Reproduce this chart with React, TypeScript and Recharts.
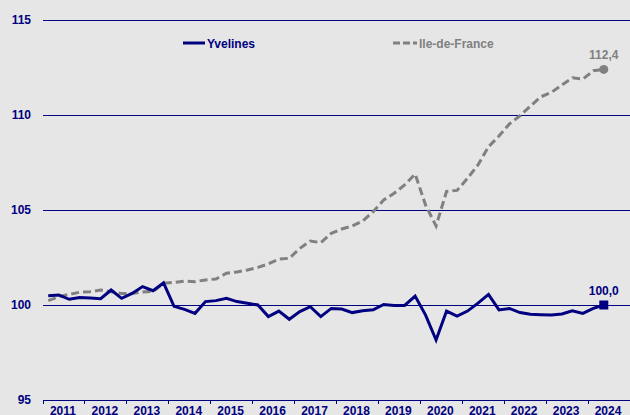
import { LineChart, Line, XAxis, YAxis, CartesianGrid } from 'recharts'

// quarterly index, 2011 Q1 .. 2024 Q2
const years = ['2011', '2012', '2013', '2014', '2015', '2016', '2017', '2018', '2019', '2020', '2021', '2022', '2023', '2024']

const yvelines = [
  100.49, 100.53, 100.3, 100.4, 100.37, 100.33, 100.79, 100.35, 100.61, 100.97, 100.75, 101.17,
  99.93, 99.77, 99.56, 100.18, 100.23, 100.35, 100.18, 100.09, 100.0, 99.39, 99.68, 99.25,
  99.65, 99.91, 99.39, 99.82, 99.79, 99.6, 99.7, 99.75, 100.03, 99.98, 99.98, 100.47,
  99.47, 98.16, 99.68, 99.42, 99.68, 100.1, 100.56, 99.74, 99.82, 99.6, 99.51, 99.49,
  99.47, 99.53, 99.7, 99.56, 99.82, 100.0,
]

const ileDeFrance = [
  100.23, 100.44, 100.56, 100.67, 100.7, 100.79, 100.7, 100.61, 100.61, 100.68, 100.72, 101.14,
  101.19, 101.26, 101.23, 101.32, 101.37, 101.67, 101.74, 101.84, 101.98, 102.16, 102.42, 102.46,
  102.98, 103.37, 103.28, 103.77, 104.0, 104.16, 104.42, 104.91, 105.53, 105.88, 106.32, 106.89,
  105.26, 104.16, 105.98, 106.03, 106.67, 107.37, 108.33, 108.89, 109.53, 109.96, 110.47, 110.96,
  111.19, 111.58, 111.96, 111.89, 112.33, 112.4,
]

const yTicks = [95, 100, 105, 110, 115]

const NAVY = '#000080'
const GREY = '#808080'
const FONT = "'Liberation Sans', Arial, sans-serif"

const W = 630
const H = 415
const LEFT = 43
const YEAR_W = (W - LEFT) / years.length

const chartData = yvelines.map((v, i) => ({ q: i + 0.5, yvelines: v, idf: ileDeFrance[i] }))
const LAST = chartData.length - 1
const xTicks = years.map((_, i) => i * 4).concat(years.length * 4)

const fmt = (v: number) => v.toFixed(1).replace('.', ',')

function YearTick({ x, y, payload }: any) {
  const idx = payload.value / 4
  if (idx >= years.length) return <g />
  return (
    <text x={x + YEAR_W / 2 - 1} y={y} dy="0.71em" textAnchor="middle" fill={NAVY}
      style={{ fontFamily: FONT, fontSize: 12, fontWeight: 700 }}>
      {years[idx]}
    </text>
  )
}

const lastLabel = (color: string) => (props: any) => {
  if (props.index !== LAST) return <g key={`l-${props.index}`} />
  return (
    <text key="last" x={props.x} y={props.y - 10} textAnchor="middle" fill={color}
      style={{ fontFamily: FONT, fontSize: 12, fontWeight: 700 }}>
      {fmt(props.value)}
    </text>
  )
}

function SquareDot(props: any) {
  if (props.index !== LAST) return <g key={`d-${props.index}`} />
  return <rect key="sq" x={props.cx - 4.5} y={props.cy - 4.5} width={9} height={9} fill={NAVY} />
}

function RoundDot(props: any) {
  if (props.index !== LAST) return <g key={`c-${props.index}`} />
  return <circle key="ci" cx={props.cx} cy={props.cy} r={4.5} fill={GREY} />
}

export default function App() {
  return (
    <div style={{ position: 'absolute', left: 0, top: 0, width: W, height: H, background: '#e6e6e6', overflow: 'hidden' }}>
      <LineChart width={W} height={H} data={chartData} margin={{ top: 20, right: 0, bottom: 0, left: 0 }}>
        <CartesianGrid horizontal vertical={false} stroke={NAVY} strokeWidth={1} shapeRendering="crispEdges" />
        <XAxis
          dataKey="q"
          type="number"
          domain={[0, years.length * 4]}
          ticks={xTicks}
          interval={0}
          height={15}
          stroke={NAVY}
          axisLine={{ stroke: NAVY, shapeRendering: 'crispEdges' }}
          tickLine={{ stroke: NAVY, shapeRendering: 'crispEdges' }}
          tickSize={4}
          tickMargin={2}
          tick={<YearTick />}
        />
        <YAxis
          domain={[95, 115]}
          ticks={yTicks}
          width={LEFT}
          axisLine={false}
          tickLine={false}
          tickSize={0}
          tickMargin={12}
          tick={{ fill: NAVY, fontFamily: FONT, fontSize: 12, fontWeight: 700 }}
        />
        <Line
          dataKey="idf"
          stroke={GREY}
          strokeWidth={3}
          strokeDasharray="8 4"
          dot={RoundDot}
          activeDot={false}
          label={lastLabel(GREY)}
          isAnimationActive={false}
        />
        <Line
          dataKey="yvelines"
          stroke={NAVY}
          strokeWidth={3}
          dot={SquareDot}
          activeDot={false}
          label={lastLabel(NAVY)}
          isAnimationActive={false}
        />
      </LineChart>
      <svg width={W} height={60} style={{ position: 'absolute', left: 0, top: 0 }}>
        <line x1={183} y1={43} x2={205} y2={43} stroke={NAVY} strokeWidth={3} />
        <text x={207} y={47.5} fill={NAVY} style={{ fontFamily: FONT, fontSize: 12, fontWeight: 700 }}>Yvelines</text>
        <line x1={393} y1={43} x2={417} y2={43} stroke={GREY} strokeWidth={3} strokeDasharray="7 3" />
        <text x={419} y={47.5} fill={GREY} style={{ fontFamily: FONT, fontSize: 12, fontWeight: 700 }}>Ile-de-France</text>
      </svg>
    </div>
  )
}
